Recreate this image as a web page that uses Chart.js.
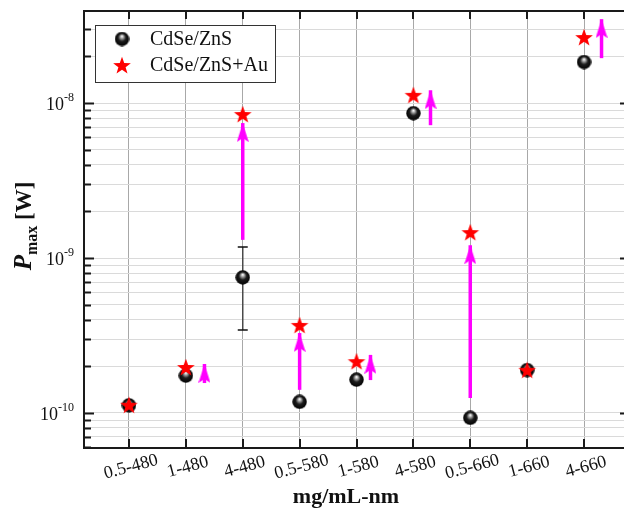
<!DOCTYPE html>
<html>
<head>
<meta charset="utf-8">
<script src="https://cdn.jsdelivr.net/npm/chart.js@4.4.1/dist/chart.umd.min.js"></script>
<style>
  html, body { margin: 0; padding: 0; background: #fff; }
  #wrap { width: 624px; height: 509px; }
</style>
</head>
<body>
<div id="wrap"><canvas id="pmaxChart" width="624" height="509"></canvas></div>
<script>
// concentration (mg/mL) - wavelength (nm)
const categories = ["0.5-480", "1-480", "4-480", "0.5-580", "1-580", "4-580", "0.5-660", "1-660", "4-660"];

// Pmax [W]
const pmaxBare = [1.12e-10, 1.74e-10, 7.5e-10, 1.18e-10, 1.64e-10, 8.6e-9, 9.3e-11, 1.89e-10, 1.84e-8];
const pmaxAu   = [1.13e-10, 1.98e-10, 8.5e-9, 3.7e-10, 2.16e-10, 1.13e-8, 1.47e-9, 1.9e-10, 2.67e-8];

// error bar (only 4-480 has one)
const errLow  = [null, null, 3.43e-10, null, null, null, null, null, null];
const errHigh = [null, null, 1.18e-9, null, null, null, null, null, null];

// enhancement arrows
const arrowX    = [1.327, 2, 3, 4.246, 5.301, 6, 8.308];
const arrowFrom = [1.56e-10, 1.31e-9, 1.41e-10, 1.63e-10, 7.2e-9, 1.25e-10, 1.95e-8];
const arrowTo   = [2.07e-10, 7.43e-9, 3.28e-10, 2.37e-10, 1.21e-8, 1.21e-9, 3.48e-8];

const yTickExp = [-10, -9, -8];
const yMin = 5.94e-11, yMax = 3.93e-8;
const xMin = -0.791, xMax = 8.703;

const SERIF = "'Liberation Serif', 'Times New Roman', serif";

// minor grid values 1..9 x 10^n
const yGrid = [];
for (let e = -11; e <= -8; e++) {
  for (let m = 1; m <= 9; m++) {
    const v = m * Math.pow(10, e);
    if (v >= yMin && v <= yMax) yGrid.push(v);
  }
}

/* ===== marker images ===== */
function makeSphere(d) {
  const c = document.createElement("canvas");
  c.width = c.height = d;
  const g = c.getContext("2d");
  const r = d / 2;
  const grad = g.createRadialGradient(r, r * 0.62, 0.3, r, r, r);
  grad.addColorStop(0, "#ffffff");
  grad.addColorStop(0.24, "#909090");
  grad.addColorStop(0.5, "#1c1c1c");
  grad.addColorStop(1, "#000000");
  g.fillStyle = grad;
  g.beginPath();
  g.arc(r, r, r - 0.3, 0, Math.PI * 2);
  g.fill();
  return c;
}

function makeStar(size, outer, inner) {
  const c = document.createElement("canvas");
  c.width = c.height = size;
  const g = c.getContext("2d");
  const cx = size / 2, cy = size / 2 + 1;
  g.fillStyle = "#ff0000";
  g.beginPath();
  for (let i = 0; i < 10; i++) {
    const rr = i % 2 === 0 ? outer : inner;
    const a = -Math.PI / 2 + i * Math.PI / 5;
    const px = cx + rr * Math.cos(a), py = cy + rr * Math.sin(a);
    if (i === 0) g.moveTo(px, py); else g.lineTo(px, py);
  }
  g.closePath();
  g.fill();
  return c;
}

// tip of the head sits at the image centre
function makeArrowHead(w, h) {
  const c = document.createElement("canvas");
  c.width = w;
  c.height = h * 2;
  const g = c.getContext("2d");
  g.fillStyle = "#ff00ff";
  g.beginPath();
  g.moveTo(w / 2, h);
  g.lineTo(w, h * 2);
  g.lineTo(w / 2, h * 2 - 4);
  g.lineTo(0, h * 2);
  g.closePath();
  g.fill();
  return c;
}

const sphereImg = makeSphere(15);
const starImg = makeStar(20, 9.3, 3.8);
const headImg = makeArrowHead(12, 19);

/* ===== datasets ===== */
const arrowSets = arrowX.map((x, i) => ({
  label: "arrow" + i,
  data: [{ x: x, y: arrowFrom[i] }, { x: x, y: arrowTo[i] }],
  showLine: true,
  borderColor: "#ff00ff",
  borderWidth: 3.5,
  borderCapStyle: "butt",
  pointStyle: headImg,
  pointRadius: [0, 6],
  order: 3
}));

const data = {
  datasets: [
    {
      label: "CdSe/ZnS+Au",
      data: pmaxAu.map((v, i) => ({ x: i, y: v })),
      pointStyle: starImg,
      pointRadius: 9,
      order: 0
    },
    {
      label: "CdSe/ZnS",
      data: pmaxBare.map((v, i) => ({ x: i, y: v })),
      pointStyle: sphereImg,
      pointRadius: 8,
      order: 1
    },
    ...arrowSets
  ]
};

/* ===== custom drawing: frame, ticks, labels, legend ===== */
const decor = {
  id: "decor",
  beforeDatasetsDraw(chart) {
    const { ctx, scales: { x, y } } = chart;
    ctx.save();
    errLow.forEach((lo, i) => {
      if (lo == null) return;
      const px = x.getPixelForValue(i);
      const y1 = y.getPixelForValue(lo), y2 = y.getPixelForValue(errHigh[i]);
      ctx.lineWidth = 1.5;
      ctx.strokeStyle = "#4a4a4a";
      ctx.beginPath();
      ctx.moveTo(px, y1); ctx.lineTo(px, y2);
      ctx.stroke();
      ctx.strokeStyle = "#111";
      ctx.beginPath();
      ctx.moveTo(px - 5, y1); ctx.lineTo(px + 5, y1);
      ctx.moveTo(px - 5, y2); ctx.lineTo(px + 5, y2);
      ctx.stroke();
    });
    ctx.restore();
  },
  afterDraw(chart) {
    const { ctx, chartArea: a, scales: { x, y } } = chart;
    const rightAxis = a.right + 6;
    ctx.save();

    // frame
    ctx.strokeStyle = "#1a1a1a";
    ctx.lineWidth = 2;
    ctx.beginPath();
    ctx.moveTo(rightAxis, a.top); ctx.lineTo(a.left, a.top);
    ctx.lineTo(a.left, a.bottom); ctx.lineTo(rightAxis, a.bottom);
    ctx.stroke();

    // y ticks (inward, both sides)
    yGrid.forEach(v => {
      const py = Math.round(y.getPixelForValue(v)) + 0.5;
      const major = Math.abs(Math.log10(v) - Math.round(Math.log10(v))) < 1e-6;
      ctx.beginPath();
      ctx.moveTo(a.left, py); ctx.lineTo(a.left + (major ? 10 : 7), py);
      ctx.moveTo(rightAxis, py); ctx.lineTo(rightAxis - (major ? 10 : 5), py);
      ctx.stroke();
    });
    // x ticks (inward, top and bottom)
    categories.forEach((c, i) => {
      const px = Math.round(x.getPixelForValue(i));
      ctx.beginPath();
      ctx.moveTo(px, a.top); ctx.lineTo(px, a.top + 8);
      ctx.moveTo(px, a.bottom); ctx.lineTo(px, a.bottom - 9);
      ctx.stroke();
    });

    // y tick labels 10^n
    ctx.fillStyle = "#111";
    ctx.textBaseline = "alphabetic";
    yTickExp.forEach(e => {
      const py = y.getPixelForValue(Math.pow(10, e));
      const sup = "-" + Math.abs(e);
      ctx.font = "12px " + SERIF;
      const ws = ctx.measureText(sup).width;
      ctx.textAlign = "left";
      ctx.fillText(sup, 74 - ws, py - 2);
      ctx.font = "18px " + SERIF;
      ctx.textAlign = "right";
      ctx.fillText("10", 74 - ws, py + 7);
    });

    // x tick labels, rotated
    ctx.font = "18px " + SERIF;
    ctx.textAlign = "center";
    ctx.textBaseline = "middle";
    categories.forEach((c, i) => {
      const px = x.getPixelForValue(i);
      ctx.save();
      ctx.translate(px + 2, 467);
      ctx.rotate(-15 * Math.PI / 180);
      ctx.fillText(c, 0, 0);
      ctx.restore();
    });

    // x title
    ctx.font = "bold 22px " + SERIF;
    ctx.fillText("mg/mL-nm", 346, 497);

    // y title  P_max [W]
    ctx.save();
    ctx.translate(31, 226);
    ctx.rotate(-Math.PI / 2);
    ctx.textAlign = "left";
    ctx.textBaseline = "alphabetic";
    const fP = "italic bold 25px " + SERIF, fM = "bold 16px " + SERIF, fW = "bold 23px " + SERIF;
    ctx.font = fP; const wP = ctx.measureText("P").width;
    ctx.font = fM; const wM = ctx.measureText("max").width;
    ctx.font = fW; const wW = ctx.measureText(" [W]").width;
    let sx = -(wP + wM + wW) / 2;
    ctx.font = fP; ctx.fillText("P", sx, 0); sx += wP;
    ctx.font = fM; ctx.fillText("max", sx, 6); sx += wM;
    ctx.font = fW; ctx.fillText(" [W]", sx, 0);
    ctx.restore();

    // legend
    const lx = a.left + 11, ly = a.top + 14;
    ctx.fillStyle = "#fff";
    ctx.fillRect(lx, ly, 180, 57);
    ctx.strokeStyle = "#333";
    ctx.lineWidth = 1;
    ctx.strokeRect(lx + 0.5, ly + 0.5, 180, 57);
    ctx.drawImage(sphereImg, lx + 27 - 7.5, ly + 14 - 7.5);
    ctx.drawImage(starImg, lx + 27 - 10, ly + 40 - 10);
    ctx.fillStyle = "#111";
    ctx.font = "20px " + SERIF;
    ctx.textAlign = "left";
    ctx.textBaseline = "middle";
    ctx.fillText("CdSe/ZnS", lx + 55, ly + 15);
    ctx.fillText("CdSe/ZnS+Au", lx + 55, ly + 41);

    ctx.restore();
  }
};

new Chart(document.getElementById("pmaxChart"), {
  type: "scatter",
  data: data,
  options: {
    responsive: false,
    animation: false,
    devicePixelRatio: 1,
    events: [],
    layout: { autoPadding: false, padding: { left: 84, top: 11, right: 0, bottom: 61 } },
    plugins: { legend: { display: false }, tooltip: { enabled: false } },
    scales: {
      x: {
        type: "linear",
        min: xMin,
        max: xMax,
        afterBuildTicks: s => { s.ticks = categories.map((c, i) => ({ value: i })); },
        ticks: { display: false },
        grid: { color: "#a8a8a8", lineWidth: 1, drawTicks: false },
        border: { display: false }
      },
      y: {
        type: "logarithmic",
        min: yMin,
        max: yMax,
        afterBuildTicks: s => { s.ticks = yGrid.map(v => ({ value: v })); },
        ticks: { display: false },
        grid: { color: "#dadada", lineWidth: 1, drawTicks: false },
        border: { display: false }
      }
    }
  },
  plugins: [decor]
});
</script>
</body>
</html>
